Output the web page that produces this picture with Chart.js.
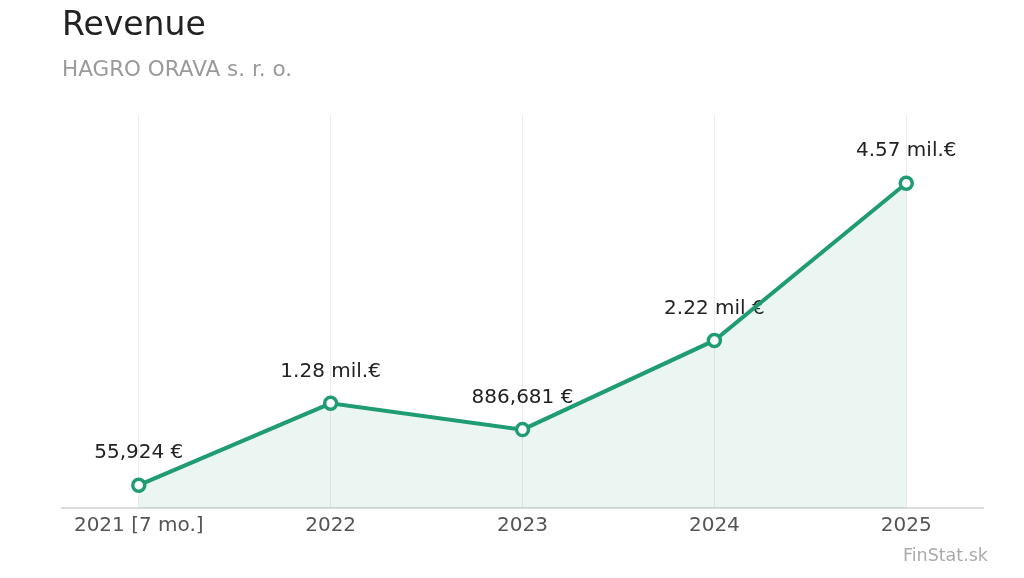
<!DOCTYPE html>
<html>
<head>
<meta charset="utf-8">
<script src="https://cdn.jsdelivr.net/npm/chart.js@4"></script>
<style>
  html, body { margin: 0; padding: 0; background: #fff; }
  #wrap { width: 1024px; height: 578px; position: relative; }
</style>
</head>
<body>
<div id="wrap"><canvas id="revenueChart"></canvas></div>
<script>
// data
var years = ['2021 [7 mo.]', '2022', '2023', '2024', '2025'];
var revenue = [55924, 1280000, 886681, 2220000, 4570000];
var chartTitle = 'Revenue';
var companyName = 'HAGRO ORAVA s. r. o.';
var sourceText = 'FinStat.sk';

var green = '#1f9c74';
var fontFamily = '"DejaVu Sans", sans-serif';

function formatMoney(v) {
  if (v >= 1000000) return (v / 1000000).toFixed(2) + ' mil.€';
  return v.toLocaleString('en-US') + ' €';
}

// title, subtitle and source text
var headerPlugin = {
  id: 'header',
  afterDraw: function (chart) {
    var ctx = chart.ctx;
    ctx.save();
    ctx.textAlign = 'left';
    ctx.textBaseline = 'alphabetic';
    ctx.fillStyle = '#222';
    ctx.font = '33px ' + fontFamily;
    ctx.fillText(chartTitle, 62, 35);
    ctx.fillStyle = '#9a9a9a';
    ctx.font = '21.5px ' + fontFamily;
    ctx.fillText(companyName, 62, 76);
    ctx.textAlign = 'right';
    ctx.fillStyle = '#aaa';
    ctx.font = '17.5px ' + fontFamily;
    ctx.fillText(sourceText, 988, 561);
    ctx.restore();
  }
};

// value labels above points (drawn under the line)
var valueLabels = {
  id: 'valueLabels',
  beforeDatasetsDraw: function (chart) {
    var ctx = chart.ctx;
    var meta = chart.getDatasetMeta(0);
    ctx.save();
    ctx.font = '20px ' + fontFamily;
    ctx.fillStyle = '#222';
    ctx.textAlign = 'center';
    ctx.textBaseline = 'middle';
    meta.data.forEach(function (pt, i) {
      ctx.fillText(formatMoney(revenue[i]), pt.x, pt.y - 32);
    });
    ctx.restore();
  }
};

var ctx = document.getElementById('revenueChart');
new Chart(ctx, {
  type: 'line',
  data: {
    datasets: [{
      data: revenue.map(function (v, i) { return { x: i, y: v }; }),
      borderColor: green,
      borderWidth: 4,
      backgroundColor: 'rgba(31,156,116,0.09)',
      fill: 'start',
      tension: 0,
      pointRadius: 6,
      pointHoverRadius: 6,
      pointBorderWidth: 3.5,
      pointBackgroundColor: '#fff',
      pointBorderColor: green
    }]
  },
  options: {
    responsive: true,
    maintainAspectRatio: false,
    animation: false,
    layout: {
      padding: { top: 115, left: 62, right: 41, bottom: 34 }
    },
    plugins: {
      legend: { display: false },
      tooltip: { enabled: false }
    },
    scales: {
      x: {
        type: 'linear',
        min: -0.4,
        max: 4.4,
        afterBuildTicks: function (scale) {
          scale.ticks = years.map(function (y, i) { return { value: i }; });
        },
        ticks: {
          padding: 6,
          color: '#555',
          font: { family: fontFamily, size: 20 },
          maxRotation: 0,
          autoSkip: false,
          callback: function (value) { return years[value]; }
        },
        grid: {
          color: '#ebebeb',
          lineWidth: 1,
          drawTicks: false
        },
        border: { color: '#dcdcdc', width: 2 }
      },
      y: {
        display: false,
        min: -285000,
        max: 5590000
      }
    }
  },
  plugins: [valueLabels, headerPlugin]
});
</script>
</body>
</html>
